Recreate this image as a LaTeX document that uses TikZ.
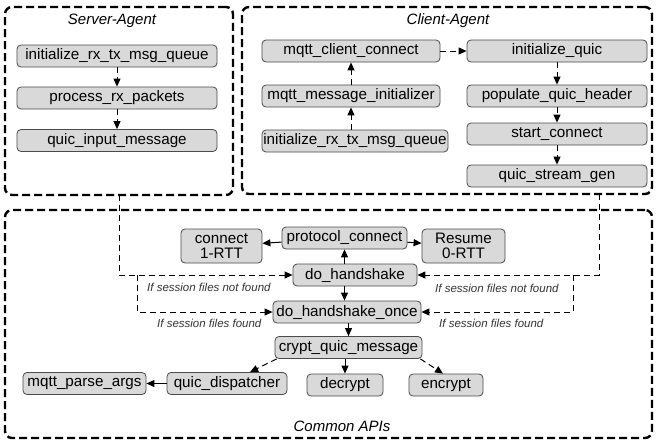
\documentclass[tikz,border=0pt]{standalone}
\usepackage{fontspec}
\setmainfont{Liberation Sans}
\usetikzlibrary{arrows.meta}

\definecolor{boxgray}{HTML}{D9D9D9}
\definecolor{boxedge}{HTML}{4A4A4A}

\tikzset{
  func/.style={draw=boxedge, fill=boxgray, rounded corners=4pt, line width=0.8pt,
    inner sep=0pt, minimum height=22pt, align=center,
    font=\fontsize{15.2}{16.5}\selectfont},
  grp/.style={draw, line width=2.4pt, dash pattern=on 8pt off 4pt,
    rounded corners=7pt, inner sep=0pt},
  grptitle/.style={font=\itshape\fontsize{15}{16}\selectfont},
  cond/.style={anchor=west, inner sep=0pt, text=black!80,
    font=\itshape\fontsize{11.5}{13}\selectfont},
  flow/.style={-{Triangle[length=8pt,width=7pt]}, line width=1pt},
  dflow/.style={flow, dash pattern=on 6pt off 4pt},
}

\begin{document}
\begin{tikzpicture}[x=1pt, y=-1pt]
  \useasboundingbox (0,0) rectangle (657,445);

  \node (server) at (119,101)   [grp, minimum width=228pt, minimum height=188pt] {};
  \node (client) at (447,100.5) [grp, minimum width=410pt, minimum height=187pt] {};
  \node (common) at (328.5,324) [grp, minimum width=647pt, minimum height=228pt] {};

  \node (servertitle) at (112,21)  [grptitle] {Server-Agent};
  \node (clienttitle) at (448,21)  [grptitle] {Client-Agent};
  \node (commontitle) at (342,426) [grptitle] {Common APIs};

  \node (srvqueue)   at (117,56)    [func, minimum width=200pt] {initialize\_rx\_tx\_msg\_queue};
  \node (srvprocess) at (117,98)    [func, minimum width=200pt] {process\_rx\_packets};
  \node (srvinput)   at (117,140.5) [func, minimum width=200pt] {quic\_input\_message};

  \node (cliconnect) at (351,51)    [func, minimum width=178pt] {mqtt\_client\_connect};
  \node (climsginit) at (351,96)    [func, minimum width=178pt] {mqtt\_message\_initializer};
  \node (cliqueue)   at (355,141)   [func, minimum width=186pt] {initialize\_rx\_tx\_msg\_queue};
  \node (initquic)   at (557,51)    [func, minimum width=180pt] {initialize\_quic};
  \node (populate)   at (557,96)    [func, minimum width=180pt] {populate\_quic\_header};
  \node (startconn)  at (557,134)   [func, minimum width=180pt] {start\_connect};
  \node (streamgen)  at (557,176)   [func, minimum width=180pt] {quic\_stream\_gen};

  \node (onertt)     at (221.5,246) [func, minimum width=81pt, minimum height=34pt] {connect\\[-1pt]1-RTT};
  \node (protoconn)  at (344.5,238) [func, minimum width=125pt] {protocol\_connect};
  \node (zerortt)    at (463.5,246) [func, minimum width=83pt, minimum height=34pt] {Resume\\[-1pt]0-RTT};
  \node (handshake)  at (355,275)   [func, minimum width=124pt] {do\_handshake};
  \node (hsonce)     at (347,312)   [func, minimum width=148pt] {do\_handshake\_once};
  \node (cryptmsg)   at (348.5,347.5) [func, minimum width=147pt] {crypt\_quic\_message};
  \node (parseargs)  at (84.5,383.5) [func, minimum width=123pt] {mqtt\_parse\_args};
  \node (dispatcher) at (227,383.5) [func, minimum width=120pt] {quic\_dispatcher};
  \node (decrypt)    at (345,385)   [func, minimum width=76pt] {decrypt};
  \node (encrypt)    at (446,385)   [func, minimum width=74pt] {encrypt};

  \coordinate (srvout)  at (119,195);
  \coordinate (cliout)  at (599,194);
  \coordinate (lbranch) at (137,275);
  \coordinate (rbranch) at (573,275);

  \draw[dflow] (srvqueue)   -- (srvprocess);
  \draw[dflow] (srvprocess) -- (srvinput);

  \draw[dflow] (cliqueue.north -| climsginit.south) -- (climsginit);
  \draw[dflow] (climsginit) -- (cliconnect);
  \draw[dflow] (cliconnect) -- (initquic);
  \draw[dflow] (initquic)   -- (populate);
  \draw[dflow] (populate)   -- (startconn);
  \draw[dflow] (startconn)  -- (streamgen);

  \draw[flow]  (protoconn) -- (onertt);
  \draw[flow]  (protoconn) -- (zerortt);
  \draw[flow]  (handshake.north -| protoconn.south) -- (protoconn);
  \draw[flow]  (handshake.south -| protoconn.south) -- (hsonce.north -| protoconn.south);
  \draw[flow]  (hsonce.south -| cryptmsg.south) -- (cryptmsg);
  \draw[flow]  (cryptmsg.south -| decrypt.north) -- (decrypt);
  \draw[dflow] ([xshift=2pt]cryptmsg.south west) -- ([xshift=23pt]dispatcher.north);
  \draw[dflow] ([xshift=-2pt]cryptmsg.south east) -- ([xshift=-3pt]encrypt.north);
  \draw[flow]  (dispatcher) -- (parseargs);

  \draw[dflow] (srvout)  |- (handshake.west);
  \draw[dflow] (lbranch) |- (hsonce.west);
  \draw[dflow] (cliout)  |- (handshake.east);
  \draw[dflow] (rbranch) |- (hsonce.east);

  \node (lnotfound) at (147,287) [cond] {If session files not found};
  \node (rnotfound) at (435,288) [cond] {If session files not found};
  \node (lfound)    at (157,323) [cond] {If session files found};
  \node (rfound)    at (439,323) [cond] {If session files found};
\end{tikzpicture}
\end{document}
